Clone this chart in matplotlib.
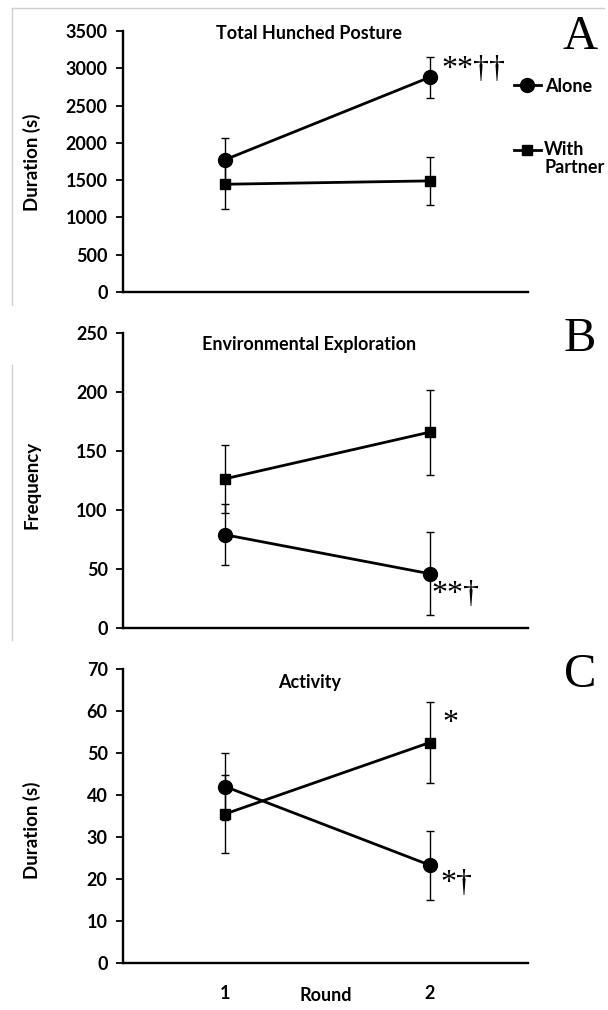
import matplotlib
matplotlib.use("Agg")
import matplotlib.pyplot as plt
from matplotlib.lines import Line2D

rounds = [1, 2]
round_labels = ["1", "2"]

# Panel A: Total Hunched Posture (duration, s)
a_alone = [1775, 2880]
a_alone_err = [285, 275]
a_partner = [1445, 1490]
a_partner_err = [330, 320]

# Panel B: Environmental Exploration (frequency)
b_alone = [79, 46]
b_alone_err = [26, 35]
b_partner = [126.5, 166]
b_partner_err = [29, 36]

# Panel C: Activity (duration, s)
c_alone = [42, 23.3]
c_alone_err = [8, 8.2]
c_partner = [35.5, 52.5]
c_partner_err = [9.2, 9.6]

titles = ["Total Hunched Posture", "Environmental Exploration", "Activity"]
ylabels = ["Duration (s)", "Frequency", "Duration (s)"]
letters = ["A", "B", "C"]
yticks = [list(range(0, 3501, 500)), list(range(0, 251, 50)), list(range(0, 71, 10))]

SANS = "Lato"
SERIF = "Liberation Serif"

W, H = 608, 1010
fig = plt.figure(figsize=(W / 100, H / 100), dpi=100)

def fx(px):
    return px / W

def fy(py):
    return 1 - py / H

left, right = 123, 528
panels = [(31, 292), (333, 628), (669, 963)]

data = [
    (a_alone, a_alone_err, a_partner, a_partner_err),
    (b_alone, b_alone_err, b_partner, b_partner_err),
    (c_alone, c_alone_err, c_partner, c_partner_err),
]
title_y = [0.99, 0.96, 0.955]
ylab_center = [162, 485, 830]

axes = []
for i, (top, bot) in enumerate(panels):
    ax = fig.add_axes([fx(left), fy(bot), fx(right - left), (bot - top) / H])
    axes.append(ax)
    al, ale, pa, pae = data[i]
    ax.errorbar(rounds, pa, yerr=pae, color="black", marker="s", markersize=7,
                lw=2.0, elinewidth=1.0, capsize=3, capthick=1.0, zorder=3)
    ax.errorbar(rounds, al, yerr=ale, color="black", marker="o", markersize=10,
                lw=2.0, elinewidth=1.0, capsize=3, capthick=1.0, zorder=3)
    ax.set_xlim(0.5, 2.48)
    ax.set_ylim(0, yticks[i][-1])
    ax.set_yticks(yticks[i])
    for s in ["top", "right"]:
        ax.spines[s].set_visible(False)
    for s in ["left", "bottom"]:
        ax.spines[s].set_linewidth(1.7)
    ax.tick_params(axis="y", direction="out", length=5, width=1.3, pad=6)
    ax.tick_params(axis="x", length=0)
    for lab in ax.get_yticklabels():
        lab.set_fontfamily(SANS)
        lab.set_fontweight("bold")
        lab.set_fontsize(13)
    if i < 2:
        ax.set_xticks([])
    else:
        ax.set_xticks(rounds)
        ax.set_xticklabels(round_labels, fontfamily=SANS, fontweight="bold", fontsize=13)
        ax.tick_params(axis="x", pad=16)
        ax.set_xlabel("Round", fontfamily=SANS, fontweight="bold", fontsize=13)
        ax.xaxis.set_label_coords(0.5, -0.083)
    ax.text(0.46, title_y[i], titles[i], transform=ax.transAxes, ha="center", va="center",
            fontfamily=SANS, fontweight="bold", fontsize=13)
    fig.text(fx(32), fy(ylab_center[i]), ylabels[i], rotation=90, ha="center", va="center",
             fontfamily=SANS, fontweight="bold", fontsize=13.5)
    fig.text(fx(580), fy(top + 6), letters[i], ha="center", va="center",
             fontfamily=SERIF, fontsize=35)

# significance annotations
axes[0].text(2.055, 2990, "**††", ha="left", va="center", fontfamily=SERIF, fontsize=23)
axes[1].text(2.01, 28, "**†", ha="left", va="center", fontfamily=SERIF, fontsize=23)
axes[2].text(2.06, 57, "*", ha="left", va="center", fontfamily=SERIF, fontsize=23)
axes[2].text(2.05, 19, "*†", ha="left", va="center", fontfamily=SERIF, fontsize=23)

# legend (panel A), drawn to the right of the axes
for (py, mk, ms) in [(85, "o", 10), (150, "s", 7)]:
    fig.add_artist(Line2D([fx(514), fx(541)], [fy(py), fy(py)], color="black", lw=2.0,
                          transform=fig.transFigure))
    fig.add_artist(Line2D([fx(527)], [fy(py)], color="black", marker=mk, markersize=ms,
                          transform=fig.transFigure))
fig.text(fx(545), fy(87), "Alone", ha="left", va="center", fontfamily=SANS,
         fontweight="bold", fontsize=13)
fig.text(fx(544), fy(141), "With\nPartner", ha="left", va="top", fontfamily=SANS,
         fontweight="bold", fontsize=13, linespacing=1.1)

# faint frame lines from the source image
grey = "#cfcfcf"
fig.add_artist(Line2D([fx(12), fx(12)], [fy(8), fy(305)], color=grey, lw=1.0, transform=fig.transFigure))
fig.add_artist(Line2D([fx(12), fx(604)], [fy(8), fy(8)], color=grey, lw=1.0, transform=fig.transFigure))
fig.add_artist(Line2D([fx(12), fx(12)], [fy(365), fy(640)], color=grey, lw=1.0, transform=fig.transFigure))

fig.savefig("out.png", dpi=100)
